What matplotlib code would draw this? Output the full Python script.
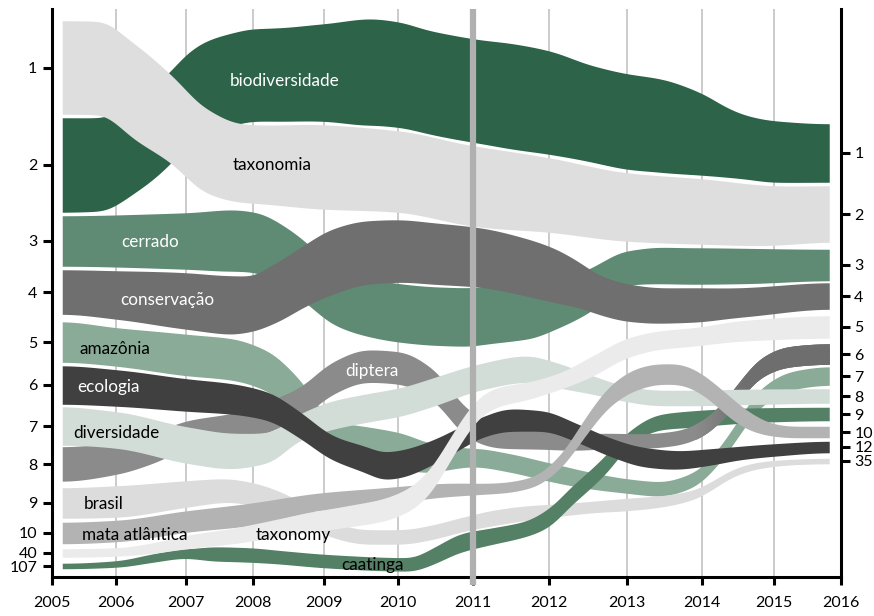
import numpy as np
import matplotlib
matplotlib.use("Agg")
import matplotlib.pyplot as plt
from matplotlib.colors import to_rgb

plt.rcParams['font.family'] = ['Lato', 'DejaVu Sans']

# years on the x axis and the relative width each year gets
years = np.arange(2005, 2017)
year_span = [64, 70, 67, 71, 74, 75, 76, 78, 75, 72, 67]

# rank of each term at the start and at the end
terms = ['taxonomia', 'biodiversidade', 'cerrado', 'conservação', 'amazônia', 'ecologia',
         'diversidade', 'diptera', 'brasil', 'mata atlântica', 'taxonomy', 'caatinga']
rank_start = [1, 2, 3, 4, 5, 6, 7, 8, 9, 10, 40, 107]
rank_end = [2, 1, 3, 4, 7, 12, 8, 6, 35, 10, 5, 9]

# stream samples: year, middle of the band (from top), band width
taxonomia_x = [2005.16, 2005.75, 2006.27, 2006.77, 2007.28, 2007.81, 2008.0, 2009.0, 2010.0, 2011.0, 2012.0, 2013.0, 2014.0, 2015.0, 2015.82]
taxonomia_mid = [67.5, 68, 92, 118, 150, 163, 164, 167, 171.5, 186, 195, 207, 211.5, 215.5, 214]
taxonomia_w = [95, 95, 97, 90, 86, 80, 80, 86, 83, 82, 76, 70, 67, 61, 58]

biodiv_x = [2005.16, 2005.75, 2006.34, 2006.77, 2007.01, 2007.31, 2007.70, 2008.0, 2008.38, 2009.0, 2009.62, 2010.0, 2010.43, 2011.0, 2011.53, 2012.0, 2012.56, 2013.0, 2013.44, 2014.01, 2014.35, 2014.63, 2015.0, 2015.82]
biodiv_mid = [165, 164.5, 143, 118, 100, 87, 79, 75, 74.5, 72.5, 72, 74.5, 82.5, 90.5, 96.5, 102.5, 114, 121.5, 125.5, 134.5, 142.5, 147.5, 151.5, 153]
biodiv_w = [96, 95, 94, 94, 94, 94, 94, 94, 95, 99, 108, 107, 105, 105, 107, 105, 98, 97, 95, 83, 71, 65, 63, 60]

cerrado_x = [2005.16, 2007.01, 2007.70, 2008.0, 2008.56, 2008.80, 2009.12, 2009.58, 2010.03, 2010.47, 2010.92, 2011.26, 2011.71, 2012.14, 2012.53, 2013.0, 2013.44, 2013.88, 2014.53, 2015.82]
cerrado_mid = [241, 241, 240.5, 242, 262, 276, 294, 307, 313, 316, 317, 315, 314, 304, 290, 268, 265.5, 266, 266, 265]
cerrado_w = [52, 58, 63, 62, 62, 62, 62, 60, 60, 60, 60, 58, 52, 48, 45, 36, 38, 38, 37, 33]

conserv_x = [2005.16, 2006.01, 2007.01, 2007.70, 2008.0, 2008.20, 2008.42, 2008.66, 2009.12, 2009.58, 2010.03, 2010.47, 2011.09, 2011.71, 2012.05, 2012.36, 2012.65, 2013.0, 2013.44, 2013.88, 2014.53, 2015.82]
conserv_mid = [292, 295, 301, 305, 303.5, 297, 289, 278.5, 261.5, 252.5, 251, 253.5, 257.5, 267.5, 275, 284, 295, 302.5, 305.5, 305, 302.5, 296]
conserv_w = [46, 50, 58, 60, 57, 60, 62, 63, 67, 65, 64, 63, 61, 59, 56, 48, 41, 39, 37, 36, 31, 28]

amazonia_x = [2005.16, 2006.01, 2007.01, 2007.70, 2008.20, 2008.66, 2009.12, 2009.58, 2010.03, 2010.47, 2011.0, 2011.49, 2012.0, 2012.56, 2013.0, 2013.44, 2013.88, 2014.21, 2014.49, 2014.81, 2015.24, 2015.82]
amazonia_mid = [342, 347, 355, 359.5, 371, 400, 440, 446, 451, 458, 457.5, 463, 472, 481, 486, 489, 480, 458, 430, 398, 381, 376]
amazonia_w = [42, 40, 43, 43, 42, 42, 40, 40, 38, 30, 20, 20, 20, 18, 16, 16, 16, 17, 18, 20, 20, 20]

ecologia_x = [2005.16, 2006.01, 2007.01, 2007.70, 2008.20, 2008.66, 2009.12, 2009.58, 2009.80, 2010.03, 2010.47, 2010.83, 2011.09, 2011.49, 2011.92, 2012.36, 2012.78, 2013.21, 2013.67, 2014.11, 2014.53, 2015.0, 2015.82]
ecologia_mid = [385, 388, 395, 399, 406, 425, 448, 460, 466, 464, 452, 438, 428, 420, 421, 433, 447, 457, 460, 457, 453, 450, 447]
ecologia_w = [40, 38, 34, 32, 30, 28, 26, 28, 29, 29, 26, 24, 22, 24, 22, 20, 20, 21, 20, 18, 15, 14, 13]

divers_x = [2005.16, 2006.01, 2007.01, 2007.70, 2008.20, 2008.66, 2009.12, 2009.58, 2010.03, 2010.47, 2011.09, 2011.71, 2012.14, 2012.56, 2013.0, 2013.44, 2013.88, 2014.53, 2015.82]
divers_mid = [426, 430, 445, 451, 448, 427, 415, 408, 402, 392, 377, 369, 376, 385, 394, 398, 398, 397, 396]
divers_w = [40, 38, 38, 37, 32, 28, 30, 30, 30, 30, 28, 28, 26, 20, 17, 17, 17, 17, 16]

diptera_x = [2005.16, 2006.01, 2006.53, 2007.01, 2007.66, 2008.0, 2008.34, 2008.66, 2009.12, 2009.58, 2010.03, 2010.47, 2010.92, 2011.36, 2011.92, 2012.36, 2012.78, 2013.21, 2013.67, 2013.97, 2014.25, 2014.53, 2014.81, 2015.19, 2015.82]
diptera_mid = [464, 458, 448, 435, 428, 423, 413, 403, 378, 366, 368, 385, 423, 438, 440, 442, 441, 441, 438, 430, 414, 390, 368, 357, 354]
diptera_w = [36, 34, 32, 30, 30, 32, 32, 33, 34, 34, 34, 33, 30, 22, 20, 18, 17, 16, 16, 17, 18, 20, 21, 22, 22]

brasil_x = [2005.16, 2006.01, 2007.01, 2007.61, 2008.0, 2008.42, 2008.66, 2009.12, 2009.58, 2010.03, 2010.47, 2010.83, 2011.26, 2011.71, 2012.14, 2012.56, 2013.0, 2013.44, 2013.88, 2014.15, 2014.43, 2014.81, 2015.28, 2015.82]
brasil_mid = [503, 501.5, 494, 490.5, 494, 503, 511, 530, 537, 537, 532, 525, 518, 513, 510, 507, 504.5, 501.5, 495, 485, 473, 465, 462, 461]
brasil_w = [32, 33, 28, 25, 24, 22, 20, 17, 16, 16, 16, 16, 17, 16, 14, 13, 14, 13, 11, 10, 9, 8, 7, 7]

mata_x = [2005.16, 2006.01, 2007.01, 2008.0, 2008.90, 2009.80, 2010.65, 2011.36, 2011.79, 2012.14, 2012.49, 2012.78, 2013.13, 2013.44, 2013.67, 2013.88, 2014.11, 2014.35, 2014.63, 2014.99, 2015.28, 2015.82]
mata_mid = [533, 531, 521.5, 514, 502, 496, 490, 488, 482, 462, 424, 396, 379, 374, 374, 379, 390, 405, 420, 430, 432, 432]
mata_w = [23, 23, 23, 24, 19, 18, 15, 12, 12, 15, 20, 22, 23, 22, 22, 22, 22, 23, 20, 14, 13, 13]

taxonomy_x = [2005.16, 2006.01, 2006.53, 2007.01, 2007.70, 2008.20, 2008.66, 2009.35, 2009.80, 2010.16, 2010.43, 2010.65, 2010.87, 2011.09, 2011.32, 2011.71, 2012.14, 2012.56, 2013.0, 2013.44, 2013.88, 2014.53, 2015.82]
taxonomy_mid = [553, 552, 548, 542, 536, 530, 524, 516, 510, 499, 481, 455, 428, 407, 397, 391, 381, 366, 348, 340, 337, 331, 327]
taxonomy_w = [10, 10, 12, 15, 17, 19, 21, 23, 24, 25, 26, 25, 24, 22, 21, 19, 18, 22, 21, 20, 20, 22, 24]

caatinga_x = [2005.16, 2006.01, 2006.53, 2007.01, 2007.46, 2007.96, 2008.42, 2008.90, 2009.35, 2009.80, 2010.16, 2010.47, 2010.83, 2011.26, 2011.71, 2012.01, 2012.27, 2012.56, 2012.78, 2013.0, 2013.44, 2013.88, 2014.35, 2014.81, 2015.82]
caatinga_mid = [566, 564, 558, 553.5, 554, 555, 557.5, 560.5, 562.5, 564, 564.5, 556, 543, 536, 528.5, 517, 497, 477, 460, 440, 422, 419, 416.5, 415, 414]
caatinga_w = [7, 8, 10, 11, 16, 16, 15, 15, 15, 15, 15, 18, 20, 18, 17, 20, 20, 20, 20, 16, 17, 18, 17, 16, 15]

streams = {
    'taxonomia': (taxonomia_x, taxonomia_mid, taxonomia_w, '#dedede', 'black'),
    'biodiversidade': (biodiv_x, biodiv_mid, biodiv_w, '#2c6349', 'white'),
    'cerrado': (cerrado_x, cerrado_mid, cerrado_w, '#5f8b74', 'white'),
    'conservação': (conserv_x, conserv_mid, conserv_w, '#6f6f6f', 'white'),
    'amazônia': (amazonia_x, amazonia_mid, amazonia_w, '#8aab98', 'black'),
    'ecologia': (ecologia_x, ecologia_mid, ecologia_w, '#404040', 'white'),
    'diversidade': (divers_x, divers_mid, divers_w, '#d3ddd8', 'black'),
    'diptera': (diptera_x, diptera_mid, diptera_w, '#8b8b8b', 'white'),
    'brasil': (brasil_x, brasil_mid, brasil_w, '#dcdcdc', 'black'),
    'mata atlântica': (mata_x, mata_mid, mata_w, '#b3b3b3', 'black'),
    'taxonomy': (taxonomy_x, taxonomy_mid, taxonomy_w, '#ebebeb', 'black'),
    'caatinga': (caatinga_x, caatinga_mid, caatinga_w, '#548065', 'black'),
}

# bottom to top
draw_order = ['amazônia', 'cerrado', 'biodiversidade', 'brasil', 'caatinga', 'diptera',
              'diversidade', 'ecologia', 'mata atlântica', 'taxonomy', 'conservação', 'taxonomia']

# in-stream labels: (year, y)
label_pos = {
    'biodiversidade': (2008.44, 81), 'taxonomia': (2008.27, 165), 'cerrado': (2006.49, 242),
    'conservação': (2006.74, 300), 'amazônia': (2005.98, 349), 'ecologia': (2005.89, 387),
    'diversidade': (2006.01, 433), 'diptera': (2009.65, 371), 'brasil': (2005.81, 504),
    'mata atlântica': (2006.27, 535), 'taxonomy': (2008.56, 535), 'caatinga': (2009.65, 565),
}


def pchip(x, y, xi):
    x = np.asarray(x, float)
    y = np.asarray(y, float)
    h = np.diff(x)
    d = np.diff(y) / h
    m = np.zeros_like(y)
    for k in range(1, len(x) - 1):
        if d[k - 1] * d[k] > 0:
            w1 = 2 * h[k] + h[k - 1]
            w2 = h[k] + 2 * h[k - 1]
            m[k] = (w1 + w2) / (w1 / d[k - 1] + w2 / d[k])
    i = np.clip(np.searchsorted(x, xi) - 1, 0, len(x) - 2)
    t = (xi - x[i]) / h[i]
    return ((2 * t**3 - 3 * t**2 + 1) * y[i] + (t**3 - 2 * t**2 + t) * h[i] * m[i]
            + (-2 * t**3 + 3 * t**2) * y[i + 1] + (t**3 - t**2) * h[i] * m[i + 1])


def smooth(v, sigma):
    n = int(3 * sigma)
    k = np.exp(-0.5 * (np.arange(-n, n + 1) / sigma) ** 2)
    k /= k.sum()
    vp = np.concatenate([np.full(n, v[0]), v, np.full(n, v[-1])])
    return np.convolve(vp, k, mode='valid')


# uneven year widths -> function scale
year_edge = np.concatenate([[0], np.cumsum(year_span)]).astype(float)


def fwd(v):
    v = np.asarray(v, float)
    out = np.interp(v, years, year_edge)
    out = np.where(v < years[0], (v - years[0]) * year_span[0], out)
    return np.where(v > years[-1], year_edge[-1] + (v - years[-1]) * year_span[-1], out)


def inv(p):
    p = np.asarray(p, float)
    out = np.interp(p, year_edge, years)
    out = np.where(p < 0, years[0] + p / year_span[0], out)
    return np.where(p > year_edge[-1], years[-1] + (p - year_edge[-1]) / year_span[-1], out)


fig = plt.figure(figsize=(8.74, 6.16), dpi=100)
ax = fig.add_axes([52 / 874, 39 / 616, 789 / 874, 568 / 616])
ax.set_xscale('function', functions=(fwd, inv))
ax.set_xlim(2005, 2016)
ax.set_ylim(577, 9)

for yr in years[1:-1]:
    ax.axvline(yr, color='#bdbdbd', lw=1.1, zorder=0)

gap = 1.5
for name in draw_order:
    xs, mid, w, col, _ = streams[name]
    p = np.arange(fwd(xs[0]), fwd(xs[-1]) + 0.5, 1.0)
    xf = inv(p)
    c = smooth(pchip(xs, mid, xf), 7)
    hw = (smooth(pchip(xs, w, xf), 7) - gap) / 2
    ax.fill_between(xf, c - hw, c + hw, color=col, lw=0, zorder=2)
    if name == 'diptera':
        # band darkens towards its end
        c0, c1 = np.array(to_rgb(col)), np.array(to_rgb('#6e6e6e'))
        f = np.clip((xf - 2013.9) / 0.7, 0, 1)
        for k in np.nonzero(f > 0)[0][:-1]:
            fc = c0 + (c1 - c0) * f[k]
            ax.fill_between(xf[k:k + 3], (c - hw)[k:k + 3], (c + hw)[k:k + 3],
                            color=fc, lw=0, zorder=2)

for name, (lx, ly) in label_pos.items():
    ax.text(lx, ly, name, ha='center', va='center', fontsize=12.3,
            color=streams[name][4], zorder=5)

# 2011 marker
ax.plot([2011, 2011], [9, 585], color='#b0b0b0', lw=4.5, zorder=6, clip_on=False,
        solid_capstyle='butt')

for s in ['top', 'right']:
    ax.spines[s].set_visible(False)
for s in ['left', 'bottom']:
    ax.spines[s].set_linewidth(2.2)
ax.set_xticks(years)
ax.set_xticklabels([str(y) for y in years])
ax.tick_params(axis='x', length=6, width=2.2, pad=8, labelsize=11.5)

ax.set_yticks([streams[t][1][0] for t in terms])
ax.set_yticklabels([str(r) for r in rank_start])
ax.tick_params(axis='y', length=6.5, width=2.2, pad=4, labelsize=11.5)

ax2 = ax.twinx()
ax2.set_ylim(ax.get_ylim())
for s in ['top', 'left', 'bottom']:
    ax2.spines[s].set_visible(False)
ax2.spines['right'].set_linewidth(2.2)
ax2.set_yticks([streams[t][1][-1] for t in terms])
ax2.set_yticklabels([str(r) for r in rank_end])
ax2.tick_params(axis='y', length=6.5, width=2.2, pad=3, labelsize=11.5)

fig.savefig('out.png', dpi=100)
